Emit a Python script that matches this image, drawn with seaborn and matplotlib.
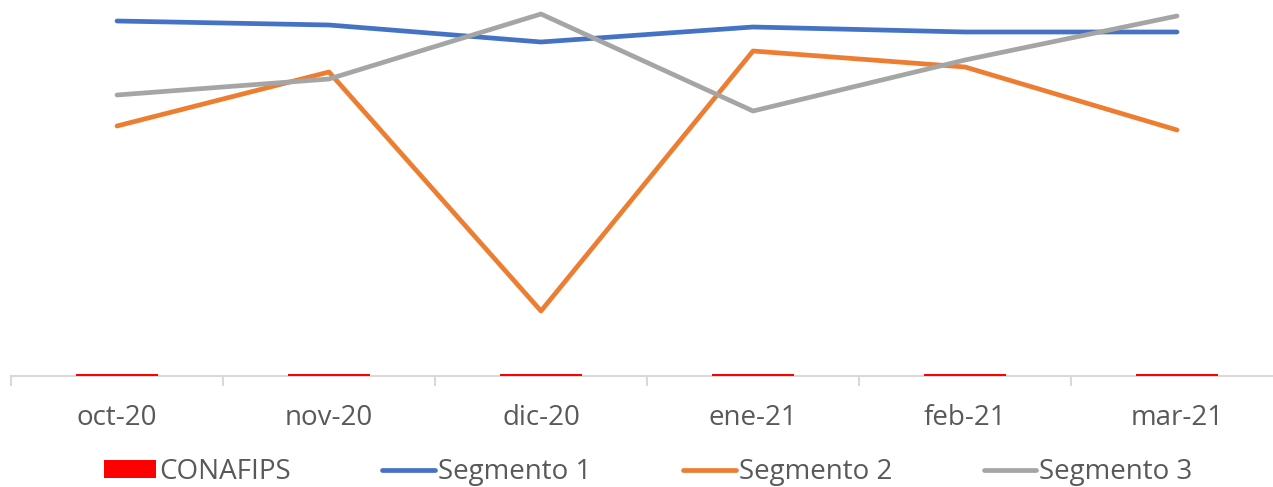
import pandas as pd
import seaborn as sns
import matplotlib.pyplot as plt

months = ['oct-20', 'nov-20', 'dic-20', 'ene-21', 'feb-21', 'mar-21']
conafips = [0.02, 0.02, 0.02, 0.02, 0.02, 0.02]
segmento_1 = [3.55, 3.51, 3.34, 3.49, 3.44, 3.44]
segmento_2 = [2.50, 3.04, 0.65, 3.25, 3.09, 2.46]
segmento_3 = [2.81, 2.97, 3.62, 2.65, 3.16, 3.60]

sns.set_style('white')
plt.rcParams['font.family'] = ['Open Sans', 'DejaVu Sans']

df_lines = pd.DataFrame({'mes': months * 3,
                         'valor': segmento_1 + segmento_2 + segmento_3,
                         'serie': ['Segmento 1'] * 6 + ['Segmento 2'] * 6 + ['Segmento 3'] * 6})

fig = plt.figure(figsize=(12.73, 4.87), dpi=100)
ax = fig.add_axes([11 / 1273, 111 / 487, 1272 / 1273, 376 / 487])

sns.barplot(x=months, y=conafips, color='#FF0000', width=0.39, label='CONAFIPS', ax=ax,
            saturation=1, zorder=4, edgecolor='#FF0000', linewidth=0)
sns.lineplot(data=df_lines, x='mes', y='valor', hue='serie',
             palette=['#4472C4', '#ED7D31', '#A5A5A5'], linewidth=3.4, ax=ax, zorder=5)

ax.set_xlim(-0.5, 5.5)
ax.set_ylim(0, 3.76)
ax.set_xlabel('')
ax.set_ylabel('')
ax.set_yticks([])
for s in ['top', 'right', 'left']:
    ax.spines[s].set_visible(False)
ax.spines['bottom'].set_color('#d9d9d9')
ax.spines['bottom'].set_linewidth(1.5)
ax.spines['bottom'].set_zorder(1)

ax.set_xticks([i - 0.5 for i in range(7)])
ax.set_xticklabels([])
ax.set_xticks(range(6), minor=True)
ax.set_xticklabels(months, minor=True)
ax.tick_params(axis='x', which='major', bottom=True, direction='out', length=7, width=1.5, color='#d9d9d9')
ax.tick_params(axis='x', which='minor', bottom=True, length=0, pad=20, labelsize=20, labelcolor='#595959')

handles, labels = ax.get_legend_handles_labels()
if ax.get_legend():
    ax.get_legend().remove()
order = [labels.index(l) for l in ['CONAFIPS', 'Segmento 1', 'Segmento 2', 'Segmento 3']]
fig.legend([handles[i] for i in order], [labels[i] for i in order], loc='center',
           bbox_to_anchor=(0.509, 15 / 487), ncol=4, frameon=False,
           fontsize=20, labelcolor='#595959', handlelength=1.9, handleheight=0.6,
           handletextpad=0.1, columnspacing=3.3)

plt.savefig('out.png', dpi=100)
plt.close()
